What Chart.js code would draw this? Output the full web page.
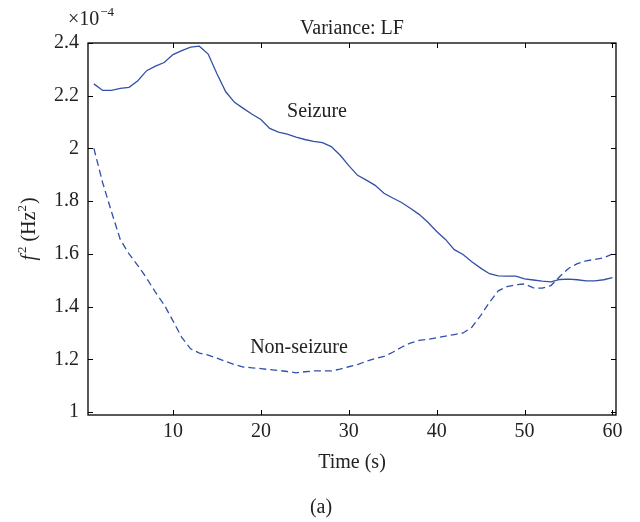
<!DOCTYPE html>
<html>
<head>
<meta charset="utf-8">
<script src="https://cdn.jsdelivr.net/npm/chart.js@4/dist/chart.umd.min.js"></script>
<style>
  html, body { margin: 0; padding: 0; background: #fff; }
  #wrap { width: 640px; height: 522px; }
</style>
</head>
<body>
<div id="wrap"><canvas id="myChart"></canvas></div>
<script>
// time in seconds
const time = [1, 2, 3, 4, 5, 6, 7, 8, 9, 10, 11, 12, 13, 14, 15, 16, 17, 18, 19, 20,
    21, 22, 23, 24, 25, 26, 27, 28, 29, 30, 31, 32, 33, 34, 35, 36, 37, 38, 39, 40,
    41, 42, 43, 44, 45, 46, 47, 48, 49, 50, 51, 52, 53, 54, 55, 56, 57, 58, 59, 60];

// variance values, x 1e-4
const seizure = [2.245, 2.22, 2.22, 2.228, 2.232, 2.257, 2.295, 2.312, 2.326, 2.356,
    2.371, 2.384, 2.388, 2.358, 2.283, 2.215, 2.175, 2.152, 2.13, 2.11,
    2.076, 2.062, 2.054, 2.043, 2.034, 2.027, 2.022, 2.007, 1.975, 1.935,
    1.898, 1.88, 1.86, 1.83, 1.812, 1.795, 1.773, 1.75, 1.72, 1.685,
    1.655, 1.616, 1.598, 1.57, 1.546, 1.525, 1.517, 1.516, 1.516, 1.505,
    1.501, 1.497, 1.494, 1.503, 1.504, 1.502, 1.498, 1.498, 1.502, 1.51];
const nonSeizure = [2.0, 1.87, 1.76, 1.655, 1.6, 1.556, 1.508, 1.455, 1.407, 1.346,
    1.283, 1.24, 1.224, 1.216, 1.205, 1.192, 1.18, 1.171, 1.168, 1.165,
    1.161, 1.158, 1.154, 1.149, 1.153, 1.156, 1.156, 1.156, 1.163, 1.172,
    1.18, 1.193, 1.203, 1.211, 1.227, 1.246, 1.262, 1.272, 1.276, 1.282,
    1.288, 1.294, 1.3, 1.322, 1.366, 1.416, 1.46, 1.476, 1.483, 1.486,
    1.471, 1.47, 1.48, 1.514, 1.545, 1.563, 1.574, 1.579, 1.585, 1.6];

const xTicks = [10, 20, 30, 40, 50, 60];
const yTicks = [1, 1.2, 1.4, 1.6, 1.8, 2, 2.2, 2.4];

const lineColor = '#3150a8';
const textColor = '#222';
const serif = '"Liberation Serif", "DejaVu Serif", serif';
const fontSize = 20;

function toPoints(vals) {
    return vals.map((v, i) => ({ x: time[i], y: v }));
}

// frame, inward ticks and the free texts
const decorations = {
    id: 'decorations',
    afterDraw(chart) {
        const c = chart.ctx;
        const a = chart.chartArea;
        const xs = chart.scales.x;
        const ys = chart.scales.y;
        const big = fontSize + 'px ' + serif;
        const small = '13px ' + serif;
        c.save();
        c.strokeStyle = '#000';
        c.lineWidth = 1.3;
        c.strokeRect(a.left, a.top, a.right - a.left, a.bottom - a.top);
        c.lineWidth = 1;
        c.beginPath();
        xTicks.forEach(t => {
            const px = Math.round(xs.getPixelForValue(t)) + 0.5;
            c.moveTo(px, a.bottom); c.lineTo(px, a.bottom - 5);
            c.moveTo(px, a.top); c.lineTo(px, a.top + 5);
        });
        yTicks.forEach(t => {
            const py = Math.round(ys.getPixelForValue(t)) + 0.5;
            c.moveTo(a.left, py); c.lineTo(a.left + 5, py);
            c.moveTo(a.right, py); c.lineTo(a.right - 5, py);
        });
        c.stroke();

        c.fillStyle = textColor;
        c.textBaseline = 'middle';
        c.textAlign = 'center';
        c.font = big;
        c.fillText('Variance: LF', (a.left + a.right) / 2, 29);
        c.fillText('Seizure', 317, 112);
        c.fillText('Non-seizure', 299, 348);
        c.fillText('Time (s)', (a.left + a.right) / 2, 463);
        c.fillText('(a)', 321, 508);

        // exponent label
        c.textAlign = 'left';
        c.fillText('\u00d710', 68, 20);
        const w10 = c.measureText('\u00d710').width;
        c.font = small;
        c.fillText('\u22124', 68 + w10 + 1, 13);

        // y axis title
        c.save();
        c.translate(30, (a.top + a.bottom) / 2);
        c.rotate(-Math.PI / 2);
        const rest = ' (Hz';
        c.font = 'italic ' + big;
        const wF = c.measureText('f').width;
        c.font = small;
        const wSup = c.measureText('2').width;
        c.font = big;
        const wRest = c.measureText(rest).width;
        const wClose = c.measureText(')').width;
        const total = wF + wSup + wRest + wSup + wClose + 3;
        let x0 = -total / 2;
        c.font = 'italic ' + big;
        c.fillText('f', x0, 0); x0 += wF + 2;
        c.font = small;
        c.fillText('2', x0, -7); x0 += wSup;
        c.font = big;
        c.fillText(rest, x0, 0); x0 += wRest;
        c.font = small;
        c.fillText('2', x0, -7); x0 += wSup + 1;
        c.font = big;
        c.fillText(')', x0, 0);
        c.restore();

        c.restore();
    }
};

const ctx = document.getElementById('myChart').getContext('2d');
const myChart = new Chart(ctx, {
    type: 'line',
    data: {
        datasets: [{
            label: 'Seizure',
            data: toPoints(seizure),
            borderColor: lineColor,
            borderWidth: 1.3,
            pointRadius: 0,
            fill: false
        }, {
            label: 'Non-seizure',
            data: toPoints(nonSeizure),
            borderColor: lineColor,
            borderWidth: 1.3,
            borderDash: [7, 4],
            pointRadius: 0,
            fill: false
        }]
    },
    options: {
        responsive: true,
        maintainAspectRatio: false,
        animation: false,
        layout: { padding: { left: 0, right: 24, top: 43, bottom: 0 } },
        plugins: {
            legend: { display: false },
            tooltip: { enabled: false }
        },
        scales: {
            x: {
                type: 'linear',
                min: 0.33,
                max: 60.4,
                afterBuildTicks: s => { s.ticks = xTicks.map(v => ({ value: v })); },
                afterFit: s => { s.height = 107; },
                grid: { display: false, drawTicks: false },
                border: { display: false },
                ticks: {
                    color: textColor,
                    font: { family: serif, size: fontSize },
                    padding: 5,
                    maxRotation: 0,
                    callback: v => String(v)
                }
            },
            y: {
                min: 0.989,
                max: 2.4,
                afterBuildTicks: s => { s.ticks = yTicks.map(v => ({ value: v })); },
                afterFit: s => { s.width = 88; },
                grid: { display: false, drawTicks: false },
                border: { display: false },
                ticks: {
                    color: textColor,
                    font: { family: serif, size: fontSize },
                    padding: 9,
                    callback: v => String(Math.round(v * 10) / 10)
                }
            }
        }
    },
    plugins: [decorations]
});
</script>
</body>
</html>
